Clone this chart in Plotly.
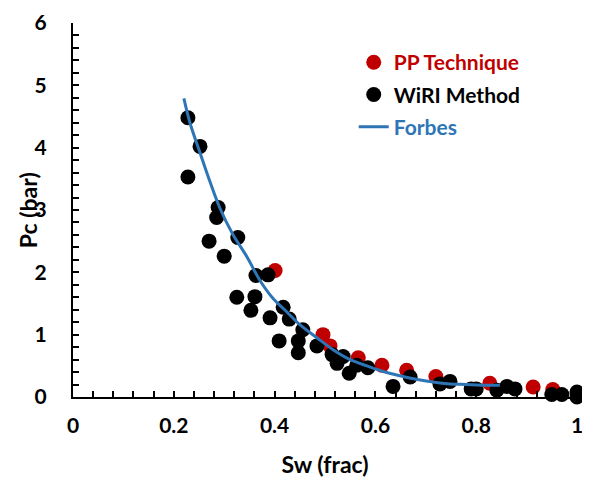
import plotly.graph_objects as go

# PP Technique (red)
pp_sw = [0.401, 0.496, 0.510, 0.566, 0.613, 0.662, 0.720, 0.827, 0.913, 0.952]
pp_pc = [2.03, 1.00, 0.82, 0.63, 0.51, 0.43, 0.33, 0.22, 0.16, 0.12]

# WiRI Method (black)
wiri_sw = [0.228, 0.252, 0.228, 0.288, 0.285, 0.270, 0.327, 0.300, 0.363, 0.387,
           0.325, 0.361, 0.353, 0.417, 0.391, 0.429, 0.409, 0.447, 0.447, 0.456,
           0.484, 0.514, 0.536, 0.524, 0.548, 0.563, 0.585, 0.635, 0.669, 0.728,
           0.748, 0.790, 0.800, 0.841, 0.861, 0.877, 0.950, 0.970, 1.000, 1.000]
wiri_pc = [4.48, 4.02, 3.53, 3.04, 2.88, 2.50, 2.56, 2.26, 1.95, 1.96,
           1.60, 1.61, 1.39, 1.44, 1.27, 1.25, 0.90, 0.90, 0.71, 1.08,
           0.82, 0.68, 0.65, 0.54, 0.38, 0.51, 0.47, 0.17, 0.32, 0.21,
           0.25, 0.13, 0.13, 0.11, 0.17, 0.13, 0.04, 0.04, 0.08, 0.00]

# Forbes curve
forbes_sw = [0.220, 0.232, 0.252, 0.272, 0.292, 0.317, 0.345, 0.371, 0.397, 0.425,
             0.450, 0.484, 0.516, 0.550, 0.583, 0.615, 0.649, 0.683, 0.714, 0.748,
             0.780, 0.810, 0.847]
forbes_pc = [4.79, 4.40, 3.92, 3.45, 3.02, 2.61, 2.25, 1.87, 1.58, 1.36,
             1.16, 0.95, 0.76, 0.60, 0.50, 0.41, 0.34, 0.28, 0.24, 0.21,
             0.20, 0.19, 0.19]

RED = "#C00000"
BLUE = "#2E75B6"
FONT = "Lato"

fig = go.Figure()
fig.add_trace(go.Scatter(
    x=pp_sw, y=pp_pc, mode="markers", cliponaxis=False, legendgroup="a",
    marker=dict(color=RED, size=15),
    name=f"<span style='color:{RED}'>PP Technique</span>"))
fig.add_trace(go.Scatter(
    x=wiri_sw, y=wiri_pc, mode="markers", cliponaxis=False, legendgroup="b",
    marker=dict(color="black", size=15),
    name="<span style='color:black'>WiRI Method</span>"))
fig.add_trace(go.Scatter(
    x=forbes_sw, y=forbes_pc, mode="lines", line_shape="spline", legendgroup="c",
    line=dict(color=BLUE, width=3),
    name=f"<span style='color:{BLUE}'>Forbes</span>"))

axis_common = dict(
    showgrid=False, zeroline=False, showline=True, linecolor="black", linewidth=2,
    ticks="inside", ticklen=6, tickwidth=1.5, tickcolor="black", automargin=False,
    ticklabeloverflow="allow",
    tickfont=dict(family=FONT, size=21, color="black", weight="bold"),
)

fig.update_layout(
    width=590, height=480,
    margin=dict(l=65, r=21, t=15, b=91),
    paper_bgcolor="white", plot_bgcolor="white",
    font=dict(family=FONT, color="black"),
    showlegend=True,
    legend=dict(
        x=0.557, y=0.949, xanchor="left", yanchor="top",
        bgcolor="rgba(0,0,0,0)", tracegroupgap=2,
        font=dict(family=FONT, size=21, weight="bold"),
    ),
    xaxis=dict(
        range=[0, 1],
        tickvals=[0, 0.2, 0.4, 0.6, 0.8, 1.0],
        ticktext=["0", "0.2", "0.4", "0.6", "0.8", "1"],
        minor=dict(dtick=0.04, tick0=0, ticks="inside", ticklen=6, tickwidth=1.5, tickcolor="black"),
        ticklabelstandoff=9,
        title=dict(text="Sw (frac)", font=dict(family=FONT, size=23, weight="bold"), standoff=21),
        **axis_common,
    ),
    yaxis=dict(
        range=[0, 6], dtick=1, tick0=0,
        minor=dict(dtick=0.2, tick0=0, ticks="inside", ticklen=6, tickwidth=1.5, tickcolor="black"),
        ticklabelstandoff=20,
        **axis_common,
    ),
    annotations=[dict(
        text="Pc (bar)", xref="paper", yref="paper", x=-0.089, y=0.5,
        xanchor="center", yanchor="middle", textangle=-90, showarrow=False,
        font=dict(family=FONT, size=23, color="black", weight="bold"),
    )],
)

fig.write_html("out.html")
